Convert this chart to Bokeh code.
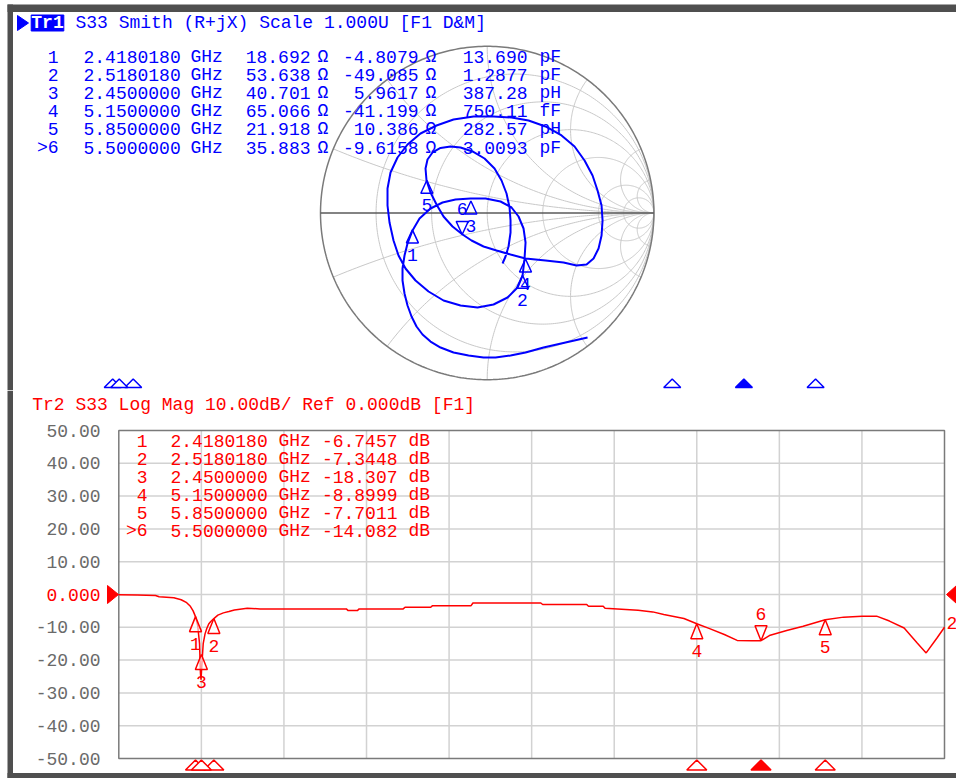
import numpy as np
from bokeh.plotting import figure
from bokeh.models import Range1d
from bokeh.layouts import column
from bokeh.embed import file_html
from bokeh.resources import INLINE
from bokeh.core.properties import value

# ---------------- data ----------------
marker_labels = ["1", "2", "3", "4", "5", ">6"]
marker_numbers = ["1", "2", "3", "4", "5", "6"]
marker_freq_ghz = [2.4180180, 2.5180180, 2.4500000, 5.1500000, 5.8500000, 5.5000000]
marker_freq_text = ["2.4180180", "2.5180180", "2.4500000", "5.1500000", "5.8500000", "5.5000000"]
marker_r_ohm = ["18.692", "53.638", "40.701", "65.066", "21.918", "35.883"]
marker_x_ohm = ["-4.8079", "-49.085", "5.9617", "-41.199", "10.386", "-9.6158"]
marker_lc_value = ["13.690", "1.2877", "387.28", "750.11", "282.57", "3.0093"]
marker_lc_unit = ["pF", "pF", "pH", "fF", "pH", "pF"]
marker_db = ["-6.7457", "-7.3448", "-18.307", "-8.8999", "-7.7011", "-14.082"]
active_marker = 5

z0_ohm = 50.0
freq_start_ghz = 2.0
freq_stop_ghz = 6.5
freq_divisions = 10
ref_level_db = 0.0
db_per_div = 10.0
db_ticks = [50, 40, 30, 20, 10, 0, -10, -20, -30, -40, -50]
db_tick_labels = ["50.00", "40.00", "30.00", "20.00", "10.00", "0.000",
                  "-10.00", "-20.00", "-30.00", "-40.00", "-50.00"]

smith_r_circles = [0.2, 0.5, 1.0, 2.0, 5.0, 10.0]
smith_x_arcs = [0.2, 0.5, 1.0, 2.0, 5.0, 10.0]

smith_title = "S33 Smith (R+jX) Scale 1.000U [F1 D&M]"
logmag_title = "Tr2 S33 Log Mag 10.00dB/ Ref 0.000dB [F1]"

# S33 reflection coefficient trace (real / imaginary), 2.0 -> 6.5 GHz
smith_gamma_re = [0.602, 0.470, 0.338, 0.230, 0.140, 0.050, -0.022, -0.112, -0.202, -0.280,
                  -0.340, -0.388, -0.424, -0.454, -0.478, -0.496, -0.508, -0.508,
                  -0.496, -0.478, -0.448, -0.406, -0.340, -0.268, -0.190, -0.100, -0.010,
                  0.080, 0.146, 0.188, 0.218, 0.230, 0.224, 0.212, 0.182, 0.122, 0.038,
                  -0.058, -0.160, -0.262, -0.352, -0.430, -0.490,
                  -0.532, -0.562, -0.586, -0.598, -0.598, -0.580, -0.538, -0.478, -0.400,
                  -0.304, -0.202, -0.082, 0.038, 0.146, 0.248, 0.350, 0.446, 0.524, 0.584,
                  0.632, 0.662, 0.686, 0.692, 0.686, 0.668, 0.638, 0.596, 0.536, 0.458,
                  0.350, 0.230,
                  0.140, 0.056, -0.022, -0.094, -0.148, -0.208, -0.262, -0.304, -0.340,
                  -0.364, -0.370, -0.358, -0.328, -0.280, -0.220, -0.160, -0.088, -0.016,
                  0.044, 0.086, 0.116, 0.134, 0.140, 0.140, 0.128, 0.110, 0.092]
smith_gamma_im = [-0.747, -0.777, -0.807, -0.837, -0.855, -0.867, -0.867, -0.855, -0.837, -0.807,
                  -0.771, -0.729, -0.681, -0.621, -0.555, -0.483, -0.405, -0.333,
                  -0.255, -0.183, -0.105, -0.033, 0.027, 0.063, 0.081, 0.087, 0.087,
                  0.069, 0.033, -0.021, -0.093, -0.177, -0.273, -0.375, -0.447, -0.507, -0.549,
                  -0.567, -0.555, -0.525, -0.471, -0.405, -0.333,
                  -0.255, -0.165, -0.057, 0.045, 0.147, 0.243, 0.333, 0.411, 0.477,
                  0.525, 0.561, 0.579, 0.579, 0.573, 0.555, 0.519, 0.465, 0.399, 0.315,
                  0.225, 0.135, 0.045, -0.045, -0.135, -0.213, -0.273, -0.309, -0.315, -0.297,
                  -0.285, -0.273,
                  -0.249, -0.225, -0.201, -0.165, -0.129, -0.081, -0.021, 0.051, 0.123,
                  0.195, 0.267, 0.321, 0.363, 0.390, 0.399, 0.393, 0.369, 0.327,
                  0.267, 0.195, 0.117, 0.033, -0.045, -0.117, -0.201, -0.261, -0.303]

# S33 log magnitude trace
trace_freq_ghz = [2.00, 2.10, 2.20, 2.22, 2.30, 2.34, 2.37, 2.39, 2.405, 2.418,
                  2.43, 2.44, 2.445, 2.448, 2.452, 2.46, 2.47, 2.48, 2.49, 2.50,
                  2.518, 2.54, 2.57, 2.60, 2.63, 2.70, 2.77, 3.00, 3.24, 3.25,
                  3.30, 3.31, 3.55, 3.56, 3.70, 3.71, 3.92, 3.93, 4.30, 4.31,
                  4.55, 4.56, 4.64, 4.65, 4.83, 4.91, 4.97, 5.08, 5.15, 5.22,
                  5.30, 5.37, 5.45, 5.50, 5.55, 5.64, 5.73, 5.85, 5.95, 6.05,
                  6.13, 6.20, 6.28, 6.35, 6.40, 6.46, 6.50]
trace_db = [-0.1, -0.15, -0.3, -0.7, -1.0, -1.6, -2.5, -3.6, -5.0, -6.75,
            -9.5, -15.0, -24.0, -26.0, -22.0, -15.0, -12.0, -10.3, -9.0, -8.3,
            -7.34, -6.3, -5.6, -5.2, -4.7, -4.2, -4.4, -4.4, -4.4, -4.9,
            -4.9, -4.4, -4.4, -3.9, -3.9, -3.4, -3.4, -2.6, -2.6, -3.05,
            -3.05, -3.6, -3.6, -4.2, -4.8, -5.3, -6.1, -7.3, -8.9, -10.4,
            -12.2, -14.0, -14.1, -14.08, -12.4, -11.0, -9.7, -7.7, -6.9, -6.6,
            -6.6, -8.1, -10.2, -14.7, -17.8, -13.2, -10.0]

# ---------------- layout (page pixels; the page has no margin) ----------------
PX0, PY0 = 0, 0
W = 956
H_TOP, H_BOT = 390, 388
S_CX, S_CY, S_R = 486.7, 212.5, 166.7          # Smith chart centre / radius
STRIP_X0, STRIP_X1 = 26.6, 948.2              # marker strip under the Smith chart
L_X0, L_X1, L_Y0, L_Y1 = 118.3, 944.0, 430.0, 758.0   # log-mag grid box

FONT = value("Liberation Mono")
FS = "18px"
BLUE = "#0000ff"
RED = "#ff0000"
FRAME = "#4f4f4f"


def base_fig(xr, yr, h):
    p = figure(width=W, height=h, x_range=xr, y_range=yr, output_backend="svg",
               toolbar_location=None, x_axis_location=None, y_axis_location=None,
               min_border=0, outline_line_color=None,
               background_fill_color="white", border_fill_color="white")
    p.grid.visible = False
    return p


def txt(p, x, y, t, color, align="left", **kw):
    p.text(x=x, y=y, text=t, text_color=color, text_font=FONT, text_font_size=FS,
           text_align=align, text_baseline="middle", **kw)


# ================= top: Smith chart =================
def gx(px):
    return (px - S_CX) / S_R


def gy(py):
    return (S_CY - py) / S_R


def sf(px):
    return freq_start_ghz + (px - STRIP_X0) / (STRIP_X1 - STRIP_X0) * (freq_stop_ghz - freq_start_ghz)


top = base_fig(Range1d(gx(PX0), gx(PX0 + W)), Range1d(gy(PY0 + H_TOP), gy(PY0)), H_TOP)
top.extra_x_ranges = {"freq": Range1d(sf(PX0), sf(PX0 + W))}

# window frame
top.quad(left=[gx(7)], right=[gx(12.5)], top=[gy(4)], bottom=[gy(PY0 + H_TOP)],
         fill_color=FRAME, line_color=None)
top.quad(left=[gx(7)], right=[gx(PX0 + W)], top=[gy(4)], bottom=[gy(11.5)],
         fill_color=FRAME, line_color=None)

# smith grid
th = np.linspace(0, 2 * np.pi, 361)
gxs, gys = [], []
for r in smith_r_circles:
    c, rad = r / (1 + r), 1 / (1 + r)
    gxs.append(c + rad * np.cos(th))
    gys.append(rad * np.sin(th))
rr = np.concatenate([np.linspace(0, 1, 60), np.geomspace(1.02, 5e3, 240)])
for xv in smith_x_arcs:
    for s in (1, -1):
        g = (rr + 1j * s * xv - 1) / (rr + 1j * s * xv + 1)
        gxs.append(g.real)
        gys.append(g.imag)
top.multi_line(gxs, gys, line_color="#c8c8c8", line_width=1)
top.line(np.cos(th), np.sin(th), line_color="#7a7a7a", line_width=1.5)
top.line([-1, 1], [0, 0], line_color="#5a5a5a", line_width=1.5)

# header
top.patch([gx(17), gx(17), gx(28)], [gy(15), gy(30), gy(22.5)], fill_color=BLUE, line_color=BLUE)
top.quad(left=[gx(30.7)], right=[gx(63.3)], top=[gy(14.5)], bottom=[gy(30.5)],
         fill_color=BLUE, line_color=BLUE)
txt(top, [gx(47)], [gy(22.5)], ["Tr1"], "white", align="center", text_font_style="bold")
txt(top, [gx(75)], [gy(22.5)], [smith_title], BLUE)

# marker table
n = len(marker_labels)
rows_y = [gy(56.5 + 18.1 * i) for i in range(n)]
txt(top, [gx(58)] * n, rows_y, marker_labels, BLUE, align="right")
txt(top, [gx(83)] * n, rows_y, marker_freq_text, BLUE)
txt(top, [gx(190)] * n, rows_y, ["GHz"] * n, BLUE)
txt(top, [gx(310)] * n, rows_y, marker_r_ohm, BLUE, align="right")
txt(top, [gx(317)] * n, rows_y, ["\u03a9"] * n, BLUE)
txt(top, [gx(418)] * n, rows_y, marker_x_ohm, BLUE, align="right")
txt(top, [gx(425)] * n, rows_y, ["\u03a9"] * n, BLUE)
txt(top, [gx(527)] * n, rows_y, marker_lc_value, BLUE, align="right")
txt(top, [gx(539)] * n, rows_y, marker_lc_unit, BLUE)

# trace
top.line(smith_gamma_re, smith_gamma_im, line_color=BLUE, line_width=2)

# markers on the Smith chart
zs = (np.array(marker_r_ohm, float) + 1j * np.array(marker_x_ohm, float)) / z0_ohm
gm = (zs - 1) / (zs + 1)
hw, h, lab = 6 / S_R, 13 / S_R, 25 / S_R
mxs, mys, lx, ly = [], [], [], []
for i, g in enumerate(gm):
    sgn = 1 if i == active_marker else -1
    mxs.append([g.real, g.real - hw, g.real + hw])
    mys.append([g.imag, g.imag + sgn * h, g.imag + sgn * h])
    lx.append(g.real)
    ly.append(g.imag + sgn * lab)
top.patches(mxs, mys, fill_alpha=0, line_color=BLUE, line_width=1.5)
txt(top, lx, ly, marker_numbers, BLUE, align="center")

# marker strip
shw = 8.5 * (freq_stop_ghz - freq_start_ghz) / (STRIP_X1 - STRIP_X0)
sxs = [[f, f - shw, f + shw] for f in marker_freq_ghz]
sys_ = [[gy(378.5), gy(387), gy(387)] for _ in marker_freq_ghz]
fills = [BLUE if i == active_marker else "white" for i in range(n)]
top.patches(sxs, sys_, fill_color=fills, line_color=BLUE, line_width=1.5, x_range_name="freq")

# ================= bottom: log magnitude =================
span = freq_stop_ghz - freq_start_ghz
db_top = ref_level_db + 5 * db_per_div
db_bot = ref_level_db - 5 * db_per_div
px_per_db = (L_Y1 - L_Y0) / (db_top - db_bot)
px_per_ghz = (L_X1 - L_X0) / span


def fx(px):
    return freq_start_ghz + (px - L_X0) / px_per_ghz


def dy(py):
    return db_top - (py - L_Y0) / px_per_db


Y_OFF = PY0 + H_TOP
bot = base_fig(Range1d(fx(PX0), fx(PX0 + W)), Range1d(dy(Y_OFF + H_BOT), dy(Y_OFF)), H_BOT)

bot.quad(left=[fx(7)], right=[fx(12.5)], top=[dy(Y_OFF)], bottom=[dy(778)],
         fill_color=FRAME, line_color=None)
bot.quad(left=[fx(7)], right=[fx(PX0 + W)], top=[dy(772.5)], bottom=[dy(778)],
         fill_color=FRAME, line_color=None)

# grid
vf = [freq_start_ghz + k * span / freq_divisions for k in range(1, freq_divisions)]
bot.segment(x0=vf, x1=vf, y0=[db_bot] * len(vf), y1=[db_top] * len(vf),
            line_color="#d2d2d2", line_width=1.5)
hd = db_ticks[1:-1]
bot.segment(x0=[freq_start_ghz] * len(hd), x1=[freq_stop_ghz] * len(hd), y0=hd, y1=hd,
            line_color="#d2d2d2", line_width=1.5)
bot.quad(left=[freq_start_ghz], right=[freq_stop_ghz], top=[db_top], bottom=[db_bot],
         fill_alpha=0, line_color="#7a7a7a", line_width=1.5)

# tick labels
tick_colors = [RED if t == ref_level_db else "#6a6a6a" for t in db_ticks]
txt(bot, [fx(100)] * len(db_ticks), db_ticks, db_tick_labels, tick_colors, align="right")

# reference triangles
rh = 9 / px_per_db
bot.patch([fx(107), fx(107), fx(118)], [ref_level_db + rh, ref_level_db - rh, ref_level_db],
          fill_color=RED, line_color=RED)
bot.patch([fx(956), fx(956), fx(946)], [ref_level_db + rh, ref_level_db - rh, ref_level_db],
          fill_color=RED, line_color=RED)

# header + marker table
txt(bot, [fx(31.7)], [dy(404)], [logmag_title], RED)
rows_b = [dy(440 + 18.1 * i) for i in range(n)]
txt(bot, [fx(147)] * n, rows_b, marker_labels, RED, align="right")
txt(bot, [fx(170)] * n, rows_b, marker_freq_text, RED)
txt(bot, [fx(278)] * n, rows_b, ["GHz"] * n, RED)
txt(bot, [fx(397)] * n, rows_b, marker_db, RED, align="right")
txt(bot, [fx(408)] * n, rows_b, ["dB"] * n, RED)

# trace
bot.line(trace_freq_ghz, trace_db, line_color=RED, line_width=1.5)
txt(bot, [trace_freq_ghz[-1] + 2 / px_per_ghz], [trace_db[-1] + 4 / px_per_db], ["2"], RED)

# markers
mdb = [float(v) for v in marker_db]
hwf, hd_, labd = 6 / px_per_ghz, 15 / px_per_db, 27 / px_per_db
bxs, bys, blx, bly = [], [], [], []
for i, (f, d) in enumerate(zip(marker_freq_ghz, mdb)):
    sgn = 1 if i == active_marker else -1
    bxs.append([f, f - hwf, f + hwf])
    bys.append([d, d + sgn * hd_, d + sgn * hd_])
    blx.append(f)
    bly.append(d + sgn * labd)
bot.patches(bxs, bys, fill_color="white", fill_alpha=0.6, line_color=RED, line_width=1.5)
txt(bot, blx, bly, marker_numbers, RED, align="center")

# marker strip
bhw = 10 / px_per_ghz
bsx = [[f, f - bhw, f + bhw] for f in marker_freq_ghz]
bsy = [[dy(759.5), dy(769.5), dy(769.5)] for _ in marker_freq_ghz]
bfills = [RED if i == active_marker else "white" for i in range(n)]
bot.patches(bsx, bsy, fill_color=bfills, line_color=RED, line_width=1.5)

layout = column(top, bot, spacing=0)
open("out.html", "w").write(file_html(layout, INLINE))
